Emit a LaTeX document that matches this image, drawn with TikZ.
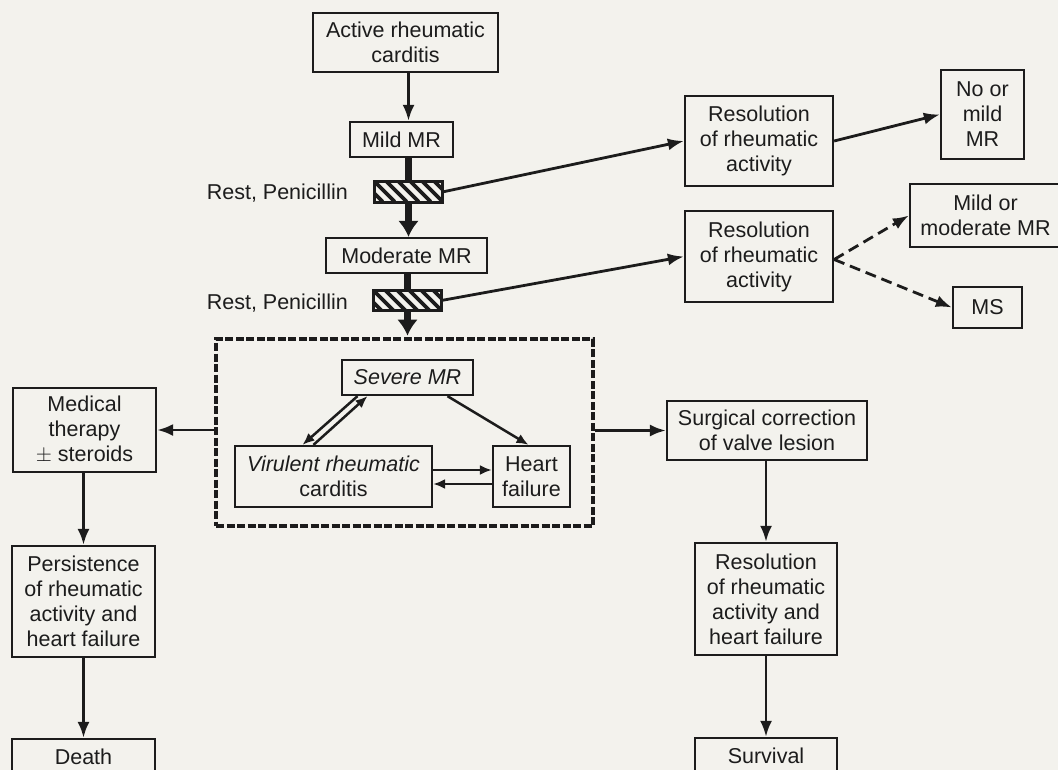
\documentclass[tikz,border=0pt]{standalone}
\usepackage{fontspec}
\setmainfont{Liberation Sans}
\usetikzlibrary{arrows.meta}
\definecolor{bg}{HTML}{F3F2ED}
\definecolor{ink}{HTML}{1C1C1C}
\begin{document}
\begin{tikzpicture}[x=1pt,y=-1pt,
  every node/.style={text=ink},
  box/.style={draw=ink, line width=2.3pt, inner sep=0pt, align=center,
    font=\fontsize{21.5}{25}\selectfont},
  lbl/.style={inner sep=0pt, font=\fontsize{21.5}{25}\selectfont},
  hatchbox/.style={draw=ink, line width=2.6pt, inner sep=0pt, fill=bg},
  arr/.style={draw=ink, line width=2.8pt, -{Latex[length=16pt,width=12pt]}},
  sarr/.style={draw=ink, line width=2.5pt, -{Latex[length=12pt,width=10pt]}},
  darr/.style={arr, dash pattern=on 11pt off 6pt},
  thickline/.style={draw=ink, line width=7pt},
  thickarr/.style={draw=ink, line width=7pt, -{Latex[length=16pt,width=21pt]}}
]
\useasboundingbox (0,0) rectangle (1058,770);
\clip (0,0) rectangle (1058,770);
\fill[bg] (0,0) rectangle (1058,770);

% main column
\node[box, minimum width=185pt, minimum height=59pt] (act) at (405.5,42.5) {Active rheumatic\\carditis};
\node[box, minimum width=103pt, minimum height=35pt] (mild) at (401.5,139.5) {Mild MR};
\node[box, minimum width=161pt, minimum height=35pt] (mod) at (406.5,255.5) {Moderate MR};
\node[hatchbox, minimum width=65pt, minimum height=18pt] (h1) at (408.5,192) {};
\node[hatchbox, minimum width=65pt, minimum height=17pt] (h2) at (407.5,300.5) {};
\node[lbl, anchor=east] (rp1) at (348,193) {Rest, Penicillin};
\node[lbl, anchor=east] (rp2) at (348,303) {Rest, Penicillin};

% dashed frame and its content
\node[draw=ink, line width=4.8pt, dash pattern=on 8pt off 2.5pt, inner sep=0pt,
  minimum width=377pt, minimum height=187pt] (dbox) at (404.5,432.5) {};
\node[box, minimum width=131pt, minimum height=35pt] (severe) at (407.5,377.5) {\itshape Severe MR};
\node[box, minimum width=197pt, minimum height=61pt] (vir) at (333.5,476.5) {{\itshape Virulent rheumatic}\\carditis};
\node[box, minimum width=77pt, minimum height=61pt] (heart) at (531.5,476.5) {Heart\\failure};

% right branches
\node[box, minimum width=148pt, minimum height=90pt] (res1) at (759,141) {Resolution\\of rheumatic\\activity};
\node[box, minimum width=83pt, minimum height=89pt] (nomild) at (982.5,114.5) {No or\\mild\\MR};
\node[box, minimum width=148pt, minimum height=91pt] (res2) at (759,256.5) {Resolution\\of rheumatic\\activity};
\node[box, minimum width=151pt, minimum height=63pt] (mildmod) at (985.5,215.5) {Mild or\\moderate MR};
\node[box, minimum width=69pt, minimum height=41pt] (ms) at (987.5,307.5) {MS};

% left column
\node[box, minimum width=143pt, minimum height=84pt] (med) at (84.5,430) {Medical\\therapy\\$\pm$ steroids};
\node[box, minimum width=143pt, minimum height=111pt] (pers) at (83.5,601.5) {Persistence\\of rheumatic\\activity and\\heart failure};
\node[box, minimum width=143pt, minimum height=36pt] (death) at (83.5,757) {Death};

% right column
\node[box, minimum width=200pt, minimum height=59pt] (surg) at (767,430.5) {Surgical correction\\of valve lesion};
\node[box, minimum width=142pt, minimum height=112pt] (res3) at (766,599) {Resolution\\of rheumatic\\activity and\\heart failure};
\node[box, minimum width=142pt, minimum height=36pt] (surv) at (766,756) {Survival};

% main vertical path
\draw[arr] (act.south -| h1) -- (mild.north -| h1);
\draw[thickline] (mild.south -| h1) -- (h1.center);
\draw[thickarr] (h1.center) -- (mod.north -| h1);
\draw[thickline] (mod.south -| h2) -- (h2.center);
\draw[thickarr] (h2.center) -- ([yshift=1pt]dbox.north -| h2);

% hatched boxes drawn on top
\foreach \hb in {h1,h2}{
  \fill[bg] (\hb.north west) rectangle (\hb.south east);
  \begin{scope}
    \clip (\hb.north west) rectangle (\hb.south east);
    \foreach \i in {-24,-12,...,72}
      \draw[ink, line width=3.6pt] ([xshift=\i pt]\hb.north west) -- ++(20,20);
  \end{scope}
  \draw[ink, line width=2.6pt] (\hb.north west) rectangle (\hb.south east);
}

% right branches
\draw[arr] (h1.east) -- (res1.west);
\draw[arr] (res1.east) -- (nomild.west);
\draw[arr] (h2.east) -- (res2.west);
\draw[darr] ([yshift=-3pt]res2.east) -- (mildmod.west);
\draw[darr] ([yshift=-3pt]res2.east) -- (ms.west);

% inside dashed frame
\draw[sarr] ([xshift=-50pt]severe.south) -- ([xshift=-31pt]vir.north);
\draw[sarr] ([xshift=-20pt]vir.north) -- ([xshift=-40pt]severe.south);
\draw[sarr] ([xshift=40pt]severe.south) -- ([xshift=-3pt]heart.north);
\draw[sarr] ([yshift=6.5pt]vir.east) -- ([yshift=6.5pt]heart.west);
\draw[sarr] ([yshift=-7.5pt]heart.west) -- ([yshift=-7.5pt]vir.east);

% out of dashed frame
\draw[arr] (dbox.west |- med.east) -- (med.east);
\draw[arr] (dbox.east |- surg.west) -- (surg.west);

% left and right columns
\draw[arr] (pers.north |- med.south) -- (pers.north);
\draw[arr] (pers.south) -- (death.north);
\draw[arr] (res3.north |- surg.south) -- (res3.north);
\draw[arr] (res3.south) -- (surv.north);
\end{tikzpicture}
\end{document}
